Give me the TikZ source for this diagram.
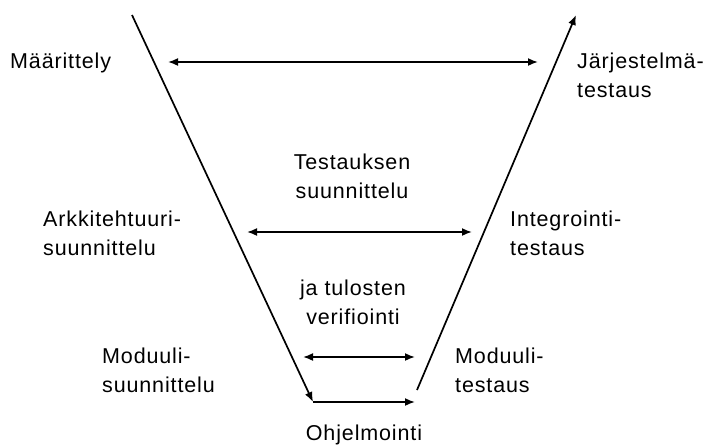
\documentclass[tikz,border=0pt]{standalone}
\usepackage{fontspec}
\setmainfont[LetterSpace=4]{Liberation Sans}
\usetikzlibrary{arrows.meta}
\begin{document}
\begin{tikzpicture}[x=1pt,y=-1pt,
  lbl/.style={inner sep=0pt,font=\fontsize{21.5}{29}\selectfont},
  vline/.style={line width=1.7pt,-{Latex[length=10pt,width=8pt]}},
  dbl/.style={line width=1.7pt,{Latex[length=10pt,width=8pt]}-{Latex[length=10pt,width=8pt]}}]
\useasboundingbox[fill=white] (0,0) rectangle (710,445);
% V shape
\coordinate (ltop) at (132,15);
\coordinate (lbot) at (313,402);
\coordinate (rbot) at (417,390);
\coordinate (rtop) at (576,15);
\coordinate (hend) at (415,402);
\draw[vline] (ltop) -- (lbot);
\draw[vline] (lbot) -- (hend);
\draw[vline] (rbot) -- (rtop);
% horizontal double arrows
\coordinate (a1l) at (168,62);  \coordinate (a1r) at (538,62);
\coordinate (a2l) at (247,232); \coordinate (a2r) at (472,232);
\coordinate (a3l) at (303,357); \coordinate (a3r) at (415,357);
\draw[dbl] (a1l) -- (a1r);
\draw[dbl] (a2l) -- (a2r);
\draw[dbl] (a3l) -- (a3r);
% labels (base anchor = baseline of last line)
\node[lbl,anchor=base west] (maar) at (10,68) {Määrittely};
\node[lbl,anchor=base west,align=left] (jarj) at (577,97) {Järjestelmä-\\testaus};
\node[lbl,anchor=base,align=center] (test) at (352,198) {Testauksen\\suunnittelu};
\node[lbl,anchor=base west,align=left] (arkk) at (43,255) {Arkkitehtuuri-\\suunnittelu};
\node[lbl,anchor=base west,align=left] (intg) at (510,255) {Integrointi-\\testaus};
\node[lbl,anchor=base,align=center] (jatu) at (353,324) {ja tulosten\\verifiointi};
\node[lbl,anchor=base west,align=left] (mods) at (102,392) {Moduuli-\\suunnittelu};
\node[lbl,anchor=base west,align=left] (modt) at (455,392) {Moduuli-\\testaus};
\node[lbl,anchor=base] (ohje) at (364,440) {Ohjelmointi};
\end{tikzpicture}
\end{document}
